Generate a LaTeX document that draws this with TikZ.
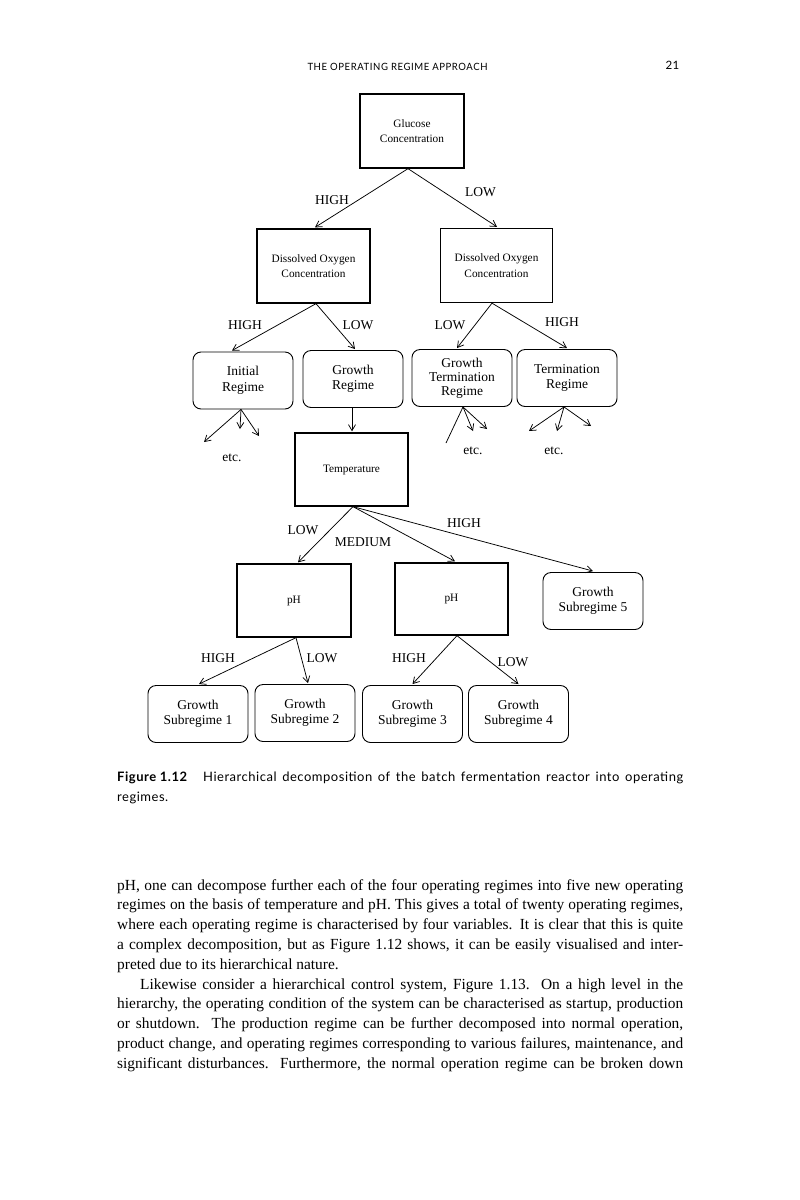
\documentclass[tikz,border=0pt]{standalone}
\usepackage{fontspec}
\setmainfont{Liberation Serif}
\newfontfamily\capfont[LetterSpace=4]{Lato}
\newfontfamily\hdrfont[LetterSpace=6]{Lato}
\usetikzlibrary{arrows.meta,calc}
\newlength\jlw
\newcommand\jline[2]{\settowidth\jlw{#2}\ifdim\jlw>#1\relax\resizebox{#1}{\height}{#2}\else\makebox[#1][s]{#2}\fi}
\begin{document}
\begin{tikzpicture}[x=1pt,y=-1pt,
  sqbox/.style={draw, line width=1.3pt, inner sep=0pt, align=center,
    font=\fontsize{11.3}{15.5}\selectfont},
  rbox/.style={draw, line width=0.9pt, rounded corners=8pt, inner sep=0pt, align=center,
    minimum width=100pt, minimum height=57pt, font=\fontsize{13.5}{15.5}\selectfont},
  lbl/.style={inner sep=0pt, font=\fontsize{13.5}{15}\selectfont},
  arr/.style={line width=0.75pt, -{Straight Barb[length=6pt,width=7pt,line width=0.75pt]}},
  bodytxt/.style={inner sep=0pt, anchor=base west, font=\fontsize{15.4}{18}\selectfont},
  captxt/.style={inner sep=0pt, anchor=base west, font=\capfont\fontsize{13}{15}\selectfont}
]
\fill[white] (0,0) rectangle (800,1200);
\useasboundingbox (0,0) rectangle (800,1200);

% header
\node[inner sep=0pt, anchor=base, font=\hdrfont\fontsize{10}{12}\selectfont] (hdr) at (397.5,70)
  {\resizebox{180pt}{\height}{THE OPERATING REGIME APPROACH}};
\node[inner sep=0pt, anchor=base, font=\capfont\fontsize{11.5}{12}\selectfont] (pg) at (672.5,69.5) {21};

% rectangles
\node[sqbox, minimum width=104pt, minimum height=74pt] (g) at (412,131) {Glucose\\Concentration};
\node[sqbox, minimum width=113pt, minimum height=74pt] (dol) at (313.5,266) {Dissolved Oxygen\\Concentration};
\node[sqbox, minimum width=112pt, minimum height=74pt] (dor) at (496.5,265.5) {Dissolved Oxygen\\Concentration};
\node[sqbox, minimum width=113pt, minimum height=73pt] (tmp) at (351.5,469.5) {Temperature};
\node[sqbox, minimum width=114pt, minimum height=73pt] (phl) at (294,600.5) {pH};
\node[sqbox, minimum width=113pt, minimum height=72pt] (phr) at (451.5,599) {pH};

% rounded boxes
\node[rbox] (ini) at (243,380.5) {Initial\\Regime};
\node[rbox] (grw) at (353,379) {Growth\\Regime};
\node[rbox, font=\fontsize{13.5}{14}\selectfont] (gtr) at (462,378) {Growth\\Termination\\Regime};
\node[rbox] (trm) at (567,378) {Termination\\Regime};
\node[rbox] (gs5) at (593,601) {Growth\\Subregime 5};
\node[rbox] (gs1) at (198,714) {Growth\\Subregime 1};
\node[rbox] (gs2) at (305,713) {Growth\\Subregime 2};
\node[rbox] (gs3) at (412.5,714) {Growth\\Subregime 3};
\node[rbox] (gs4) at (518.5,714) {Growth\\Subregime 4};

% connectors level 1
\draw[arr] ($(g.south)+(-4,0)$) -- ($(dol.north)+(1.5,-1)$);
\draw[arr] ($(g.south)+(-4,0)$) -- ($(dor.north)+(0.5,-1)$);
\node[lbl] (l1) at (332,200) {HIGH};
\node[lbl] (l2) at (480.5,192) {LOW};

% level 2
\draw[arr] ($(dol.south)+(2.5,0)$) -- ($(ini.north)+(-11,-1)$);
\draw[arr] ($(dol.south)+(2.5,0)$) -- ($(grw.north)+(2,-1)$);
\draw[arr] ($(dor.south)+(-4.5,0)$) -- ($(gtr.north)+(-5,-1)$);
\draw[arr] ($(dor.south)+(-4.5,0)$) -- ($(trm.north)+(0,-1)$);
\node[lbl] (l3) at (245,325) {HIGH};
\node[lbl] (l4) at (358,325) {LOW};
\node[lbl] (l5) at (450,325) {LOW};
\node[lbl] (l6) at (562,322) {HIGH};

% etc. arrows
\coordinate (i1) at (204,442); \coordinate (i2) at (240,429); \coordinate (i3) at (259,436);
\draw[arr] ($(ini.south)+(-2,0)$) -- (i1);
\draw[arr] ($(ini.south)+(-2,0)$) -- (i2);
\draw[arr] ($(ini.south)+(-2,0)$) -- (i3);
\node[lbl] (etc1) at (232,458) {etc.};
\coordinate (t1) at (446,443); \coordinate (t2) at (473,431); \coordinate (t3) at (487,429);
\draw[line width=0.75pt] ($(gtr.south)+(1,0)$) -- (t1);
\draw[arr] ($(gtr.south)+(1,0)$) -- (t2);
\draw[arr] ($(gtr.south)+(1,0)$) -- (t3);
\node[lbl] (etc2) at (473,451) {etc.};
\coordinate (m1) at (529,431); \coordinate (m2) at (557,431); \coordinate (m3) at (591,426);
\draw[arr] ($(trm.south)+(-3,0)$) -- (m1);
\draw[arr] ($(trm.south)+(-3,0)$) -- (m2);
\draw[arr] ($(trm.south)+(-3,0)$) -- (m3);
\node[lbl] (etc3) at (554,451) {etc.};

% growth -> temperature
\draw[arr] ($(grw.south)+(-1,0)$) -- ($(grw.south |- tmp.north)+(-1,-1)$);

% temperature branches
\draw[arr] ($(tmp.south)+(1.5,0)$) -- ($(phl.north)+(4,-1)$);
\draw[arr] ($(tmp.south)+(1.5,0)$) -- ($(phr.north)+(3.5,-1)$);
\draw[arr] ($(tmp.south)+(1.5,0)$) -- ($(gs5.north)+(0,-1)$);
\node[lbl] (l7) at (303,530) {LOW};
\node[lbl] (l8) at (363,542) {MEDIUM};
\node[lbl] (l9) at (464,523) {HIGH};

% pH branches
\draw[arr] ($(phl.south)+(2,0)$) -- ($(gs1.north)+(1,-1)$);
\draw[arr] ($(phl.south)+(2,0)$) -- ($(gs2.north)+(3,-1)$);
\draw[arr] ($(phr.south)+(5.5,0)$) -- ($(gs3.north)+(0,-1)$);
\draw[arr] ($(phr.south)+(5.5,0)$) -- ($(gs4.north)+(0,-1)$);
\node[lbl] (l10) at (218,658) {HIGH};
\node[lbl] (l11) at (322,658) {LOW};
\node[lbl] (l12) at (409,658) {HIGH};
\node[lbl] (l13) at (513,662) {LOW};

% caption
\node[captxt] (cp1) at (117,781) {\resizebox{70pt}{\height}{\bfseries Figure 1.12}};
\node[captxt] (cp2) at (203,781) {\jline{480pt}{Hierarchical decomposition of the batch fermentation reactor into operating}};
\node[captxt] (cp3) at (117,801) {regimes.};

% body text
\node[bodytxt] (b1) at (117,890) {\jline{566pt}{pH, one can decompose further each of the four operating regimes into five new operating}};
\node[bodytxt] (b2) at (117,909.8) {\jline{566pt}{regimes on the basis of temperature and pH. This gives a total of twenty operating regimes,}};
\node[bodytxt] (b3) at (117,929.6) {\jline{566pt}{where each operating regime is characterised by four variables. It is clear that this is quite}};
\node[bodytxt] (b4) at (117,949.4) {\jline{566pt}{a complex decomposition, but as Figure 1.12 shows, it can be easily visualised and inter-}};
\node[bodytxt] (b5) at (117,969.2) {preted due to its hierarchical nature.};
\node[bodytxt] (b6) at (140,989) {\jline{543pt}{Likewise consider a hierarchical control system, Figure 1.13.\ \ On a high level in the}};
\node[bodytxt] (b7) at (117,1008.8) {\jline{566pt}{hierarchy, the operating condition of the system can be characterised as startup, production}};
\node[bodytxt] (b8) at (117,1028.6) {\jline{566pt}{or shutdown.\ \ The production regime can be further decomposed into normal operation,}};
\node[bodytxt] (b9) at (117,1048.4) {\jline{566pt}{product change, and operating regimes corresponding to various failures, maintenance, and}};
\node[bodytxt] (b10) at (117,1068.2) {\jline{566pt}{significant disturbances.\ \ Furthermore, the normal operation regime can be broken down}};
\end{tikzpicture}
\end{document}
